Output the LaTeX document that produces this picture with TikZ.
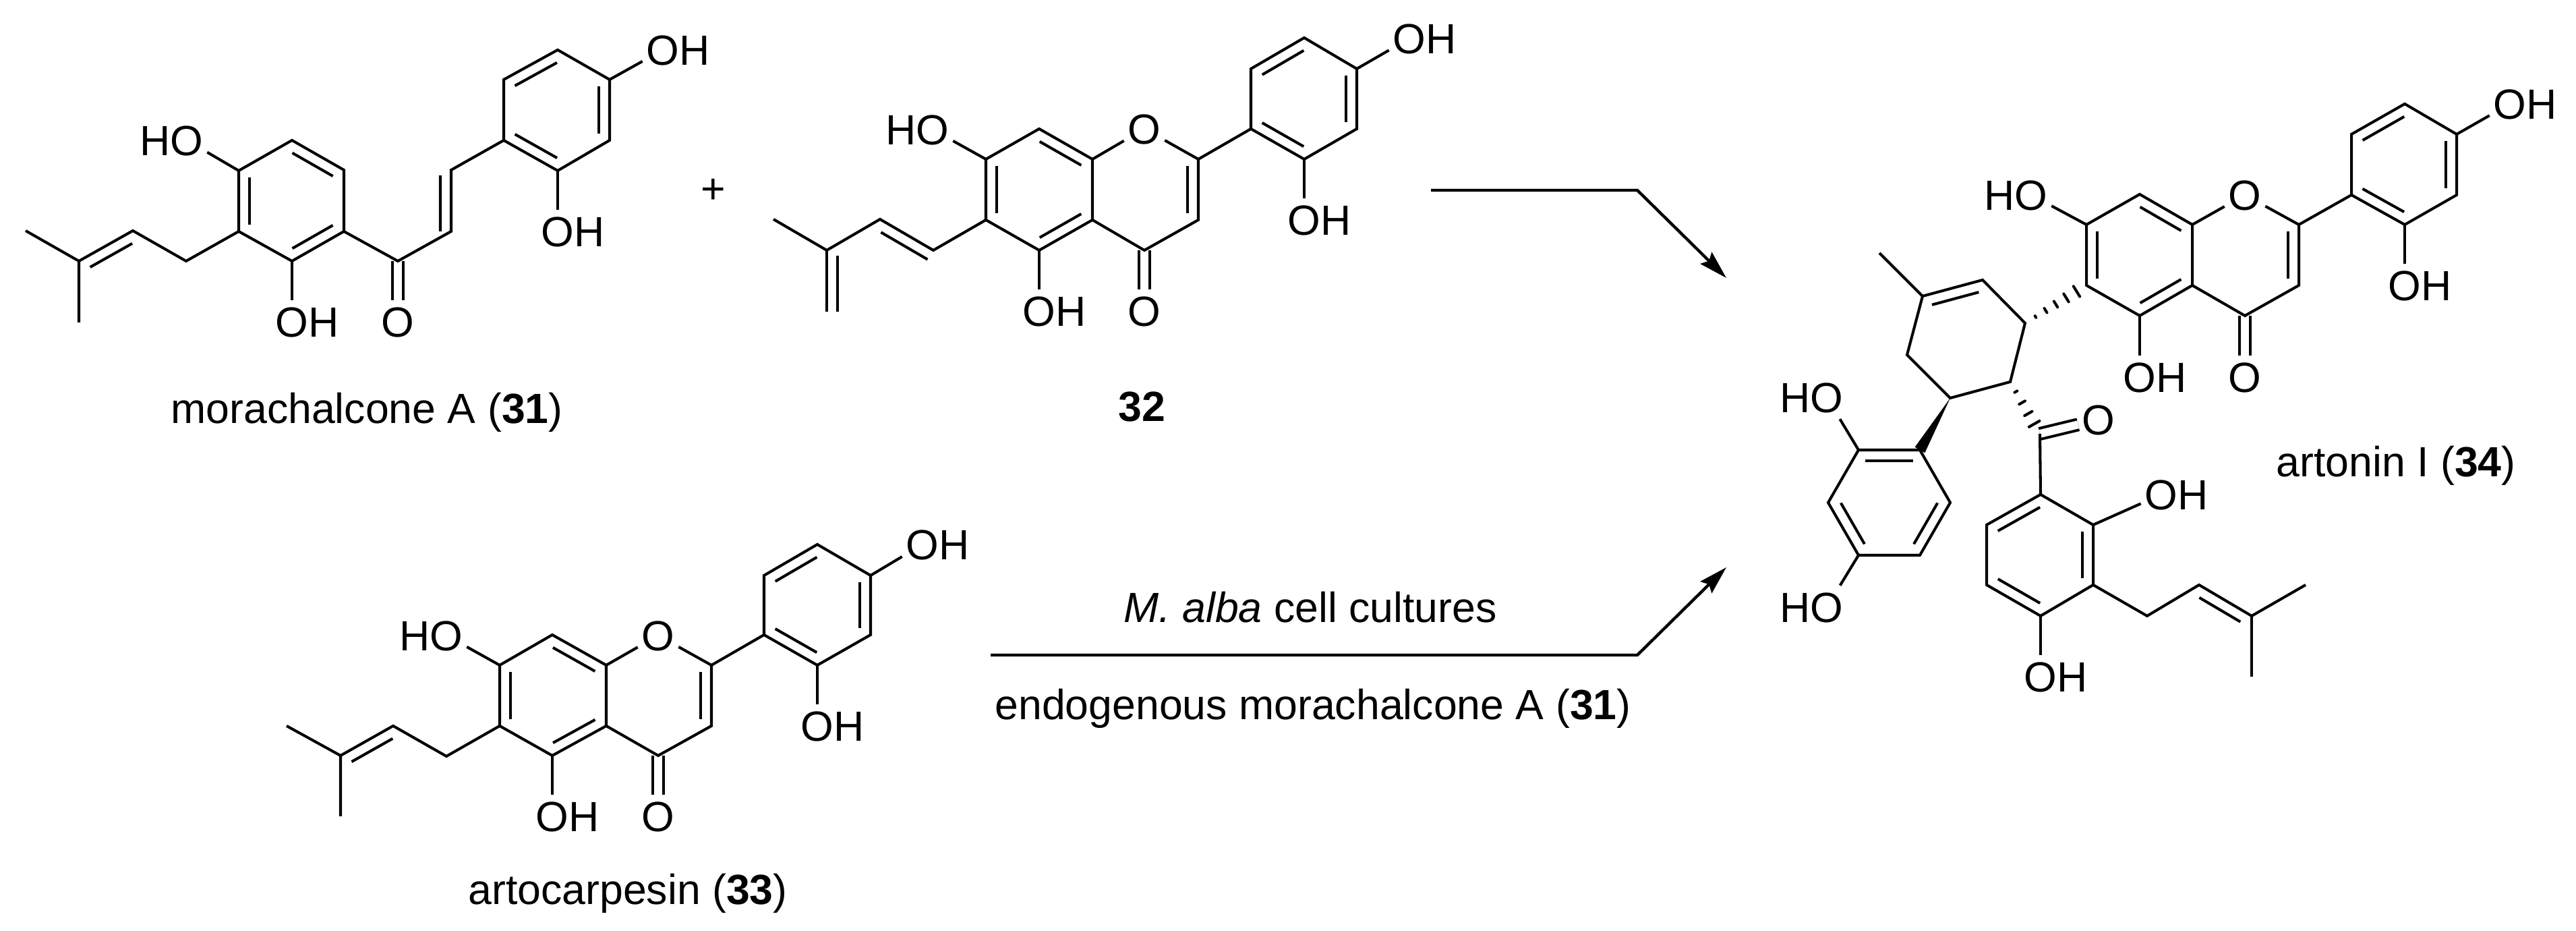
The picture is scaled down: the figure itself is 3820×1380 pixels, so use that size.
\documentclass[tikz,border=0pt]{standalone}
\usepackage{fontspec}
\setmainfont{Liberation Sans}
\usetikzlibrary{calc,arrows.meta}
\tikzset{
  x=0.01cm,y=-0.01cm,
  bond/.style={draw=black,line width=1.15pt,line join=miter},
  cobond/.style={draw=black,line width=1.15pt,double=white,double distance=3.4pt},
  hashline/.style={draw=black,line width=1.15pt,line cap=round},
  pathway/.style={draw=black,line width=1.25pt,line join=miter,-{Stealth[length=.42cm,width=.24cm,inset=.06cm]}},
  atom/.style={inner xsep=1.5pt,inner ysep=2.6pt,text height=12.7pt,text depth=0pt,font=\fontsize{17.8}{21}\selectfont},
  caption/.style={inner sep=0pt,anchor=base,font=\fontsize{17.8}{21}\selectfont},
}
\newcommand{\dbl}[3]{\draw[bond] ($(#1)!.11!(#2)!.16cm!#3:(#2)$) -- ($(#1)!.89!(#2)!.16cm!#3:(#2)$);}
\newcommand{\dblt}[5]{\draw[bond] ($(#1)!#4!(#2)!.16cm!#3:(#2)$) -- ($(#1)!#5!(#2)!.16cm!#3:(#2)$);}
\newcommand{\hashbond}[3]{\foreach \t/\w in {#3}{\draw[hashline] ($(#1)!\t!(#2)!\w cm!90:(#2)$) -- ($(#1)!\t!(#2)!\w cm!-90:(#2)$);}}
\newcommand{\OH}[3]{\node[atom] (#1) at (#2,#3) {O\rlap{H}};}
\newcommand{\HO}[3]{\node[atom] (#1) at (#2,#3) {\llap{H}O};}
\newcommand{\Oxy}[3]{\node[atom] (#1) at (#2,#3) {O};}
\begin{document}
\begin{tikzpicture}
\useasboundingbox (0,0) rectangle (3820,1380);
\fill[white] (0,0) rectangle (3820,1380);
% ---------- morachalcone A (31)
\foreach \n/\x/\y in {a1/38/342,a2/117/387,a3/117/478,a4/197/342,a5/276/387,
  a6/354/343,a7/354/253,a8/433/208,a9/510/252,a10/510/343,a11/433/387,
  a12/590/387,a13/669/343,a14/669/252,a15/747/208,a16/827/253,a17/904/208,a18/904/118,a19/827/74,a20/747/118}
  {\coordinate (\n) at (\x,\y);}
\HO{aO1}{277}{208}
\OH{aO2}{433}{477}
\Oxy{aO3}{590}{477}
\OH{aO4}{827}{343}
\OH{aO5}{983}{74}
\draw[cobond] (a12) -- (aO3);
\draw[bond] (a3) -- (a2) -- (a1);
\draw[bond] (a2) -- (a4) -- (a5) -- (a6);
\draw[bond] (a6) -- (a7) -- (a8) -- (a9) -- (a10) -- (a11) -- cycle;
\draw[bond] (a10) -- (a12) -- (a13) -- (a14) -- (a15);
\draw[bond] (a15) -- (a16) -- (a17) -- (a18) -- (a19) -- (a20) -- cycle;
\draw[bond] (a7) -- (aO1);
\draw[bond] (a11) -- (aO2);
\draw[bond] (a16) -- (aO4);
\draw[bond] (a18) -- (aO5);
\dbl{a2}{a4}{-90}
\dbl{a7}{a6}{90}
\dbl{a8}{a9}{-90}
\dbl{a10}{a11}{-90}
\dblt{a13}{a14}{90}{0}{.91}
\dbl{a15}{a16}{90}
\dbl{a17}{a18}{90}
\dbl{a19}{a20}{90}
\node[caption] (lab31) at (544,628) {morachalcone A (\textbf{31})};
\node[inner sep=0pt,font=\fontsize{17.8}{21}\selectfont] (plus) at (1058,283) {+};
% ---------- 32
\foreach \n/\x/\y in {b1/1147/325,b2/1226/371,b3/1226/462,b4/1305/325,b5/1384/371,
  b6/1462/326,b7/1462/236,b8/1541/191,b9/1620/236,b10/1620/326,b11/1541/371,
  b12/1777/236,b13/1777/326,b14/1697/371,
  b15/1855/191,b16/1934/236,b17/2012/191,b18/2012/102,b19/1934/56,b20/1855/102}
  {\coordinate (\n) at (\x,\y);}
\Oxy{bO1}{1697}{191}
\HO{bO2}{1383}{192}
\OH{bO3}{1541}{461}
\Oxy{bO4}{1697}{461}
\OH{bO5}{1934}{326}
\OH{bO6}{2090}{57}
\draw[cobond] (b14) -- (bO4);
\draw[bond] (b1) -- (b2) -- (b4) -- (b5) -- (b6);
\draw[bond] (b2) -- (b3);
\draw[bond] (b6) -- (b7) -- (b8) -- (b9) -- (b10) -- (b11) -- cycle;
\draw[bond] (b9) -- (bO1) -- (b12);
\draw[bond] (b12) -- (b13) -- (b14) -- (b10);
\draw[bond] (b12) -- (b15);
\draw[bond] (b15) -- (b16) -- (b17) -- (b18) -- (b19) -- (b20) -- cycle;
\draw[bond] (b7) -- (bO2);
\draw[bond] (b11) -- (bO3);
\draw[bond] (b16) -- (bO5);
\draw[bond] (b18) -- (bO6);
\dblt{b2}{b3}{90}{.09}{.995}
\dblt{b4}{b5}{-90}{.12}{.995}
\dbl{b7}{b6}{90}
\dbl{b8}{b9}{-90}
\dbl{b10}{b11}{-90}
\dbl{b12}{b13}{-90}
\dbl{b15}{b16}{90}
\dbl{b17}{b18}{90}
\dbl{b19}{b20}{90}
\node[caption] (lab32) at (1693,625) {\textbf{32}};
% ---------- artocarpesin (33)
\foreach \n/\x/\y in {c1/425/1076,c2/505/1120,c3/505/1210,c4/583/1076,c5/662/1121,
  c6/741/1076,c7/741/986,c8/819/941,c9/899/986,c10/899/1076,c11/819/1120,
  c12/1055/986,c13/1055/1076,c14/976/1120,
  c15/1133/941,c16/1212/986,c17/1291/941,c18/1291/853,c19/1212/807,c20/1133/853}
  {\coordinate (\n) at (\x,\y);}
\Oxy{cO1}{976}{942}
\HO{cO2}{662}{942}
\OH{cO3}{819}{1210}
\Oxy{cO4}{976}{1210}
\OH{cO5}{1212}{1076}
\OH{cO6}{1368}{807}
\draw[cobond] (c14) -- (cO4);
\draw[bond] (c3) -- (c2) -- (c1);
\draw[bond] (c2) -- (c4) -- (c5) -- (c6);
\draw[bond] (c6) -- (c7) -- (c8) -- (c9) -- (c10) -- (c11) -- cycle;
\draw[bond] (c9) -- (cO1) -- (c12);
\draw[bond] (c12) -- (c13) -- (c14) -- (c10);
\draw[bond] (c12) -- (c15);
\draw[bond] (c15) -- (c16) -- (c17) -- (c18) -- (c19) -- (c20) -- cycle;
\draw[bond] (c7) -- (cO2);
\draw[bond] (c11) -- (cO3);
\draw[bond] (c16) -- (cO5);
\draw[bond] (c18) -- (cO6);
\dbl{c2}{c4}{-90}
\dbl{c7}{c6}{90}
\dbl{c8}{c9}{-90}
\dbl{c10}{c11}{-90}
\dbl{c12}{c13}{-90}
\dbl{c15}{c16}{90}
\dbl{c17}{c18}{90}
\dbl{c19}{c20}{90}
\node[caption] (lab33) at (931,1341) {artocarpesin (\textbf{33})};
% ---------- reaction arrows
\coordinate (r1) at (2122,282); \coordinate (r2) at (2428,282); \coordinate (r3) at (2560,412);
\draw[pathway] (r1) -- (r2) -- (r3);
\coordinate (s1) at (1469,971); \coordinate (s2) at (2428,971); \coordinate (s3) at (2560,841);
\draw[pathway] (s1) -- (s2) -- (s3);
\node[caption] (cond1) at (1943,923) {\textit{M. alba} cell cultures};
\node[caption] (cond2) at (1947,1067) {endogenous morachalcone A (\textbf{31})};
% ---------- artonin I (34)
\foreach \n/\x/\y in {d6/3094/423,d7/3094/333,d8/3173/288,d9/3251/333,d10/3251/423,d11/3173/468,
  d12/3409/333,d13/3409/423,d14/3329/468,
  d15/3487/289,d16/3566/333,d17/3643/289,d18/3643/199,d19/3566/154,d20/3487/199,
  e1/2787/375,e2/2851/439,e3/2940/415,e4/3003/479,e5/2981/566,e6/2892/590,e7/2828/526,
  f1/2756/667,f2/2847/667,f3/2892/745,f4/2847/823,f5/2756/823,f6/2711/745,
  g0/3025/643,g1/3026/733,g2/3104/778,g3/3104/867,g4/3026/913,g5/2946/867,g6/2946/778,
  g7/3184/913,g8/3261/867,g9/3339/913,g10/3419/867,g11/3339/1003}
  {\coordinate (\n) at (\x,\y);}
\Oxy{dO1}{3329}{289}
\HO{dO2}{3012}{289}
\OH{dO3}{3173}{559}
\Oxy{dO4}{3329}{559}
\OH{dO5}{3566}{423}
\OH{dO6}{3722}{154}
\HO{fO1}{2709}{589}
\HO{fO2}{2709}{900}
\Oxy{gO0}{3112}{622}
\OH{gO1}{3205}{733}
\OH{gO2}{3026}{1003}
\draw[cobond] (d14) -- (dO4);
\draw[cobond] (g0) -- (gO0);
\draw[bond] (d6) -- (d7) -- (d8) -- (d9) -- (d10) -- (d11) -- cycle;
\draw[bond] (d9) -- (dO1) -- (d12);
\draw[bond] (d12) -- (d13) -- (d14) -- (d10);
\draw[bond] (d12) -- (d15);
\draw[bond] (d15) -- (d16) -- (d17) -- (d18) -- (d19) -- (d20) -- cycle;
\draw[bond] (d7) -- (dO2);
\draw[bond] (d11) -- (dO3);
\draw[bond] (d16) -- (dO5);
\draw[bond] (d18) -- (dO6);
\dbl{d7}{d6}{90}
\dbl{d8}{d9}{-90}
\dbl{d10}{d11}{-90}
\dbl{d12}{d13}{-90}
\dbl{d15}{d16}{90}
\dbl{d17}{d18}{90}
\dbl{d19}{d20}{90}
\draw[bond] (e1) -- (e2);
\draw[bond] (e2) -- (e3) -- (e4) -- (e5) -- (e6) -- (e7) -- cycle;
\dbl{e2}{e3}{-90}
\hashbond{e4}{d6}{.17/.015,.335/.038,.5/.052,.67/.07,.84/.09}
\hashbond{e5}{g0}{.19/.023,.40/.05,.61/.065,.81/.09}
\fill[black] (e6) -- ($(f2)!.085cm!90:(e6)$) -- ($(f2)!.085cm!-90:(e6)$) -- cycle;
\draw[bond] (f1) -- (f2) -- (f3) -- (f4) -- (f5) -- (f6) -- cycle;
\dbl{f1}{f2}{-90}
\dbl{f3}{f4}{-90}
\dbl{f5}{f6}{-90}
\draw[bond] (f1) -- (fO1);
\draw[bond] (f5) -- (fO2);
\draw[bond] (g0) -- (g1);
\draw[bond] (g1) -- (g2) -- (g3) -- (g4) -- (g5) -- (g6) -- cycle;
\dbl{g1}{g6}{90}
\dbl{g2}{g3}{-90}
\dbl{g4}{g5}{-90}
\draw[bond] (g2) -- (gO1);
\draw[bond] (g4) -- (gO2);
\draw[bond] (g3) -- (g7) -- (g8) -- (g9) -- (g10);
\draw[bond] (g9) -- (g11);
\dbl{g8}{g9}{-90}
\node[caption] (lab34) at (3553,707) {artonin I (\textbf{34})};
\end{tikzpicture}
\end{document}
